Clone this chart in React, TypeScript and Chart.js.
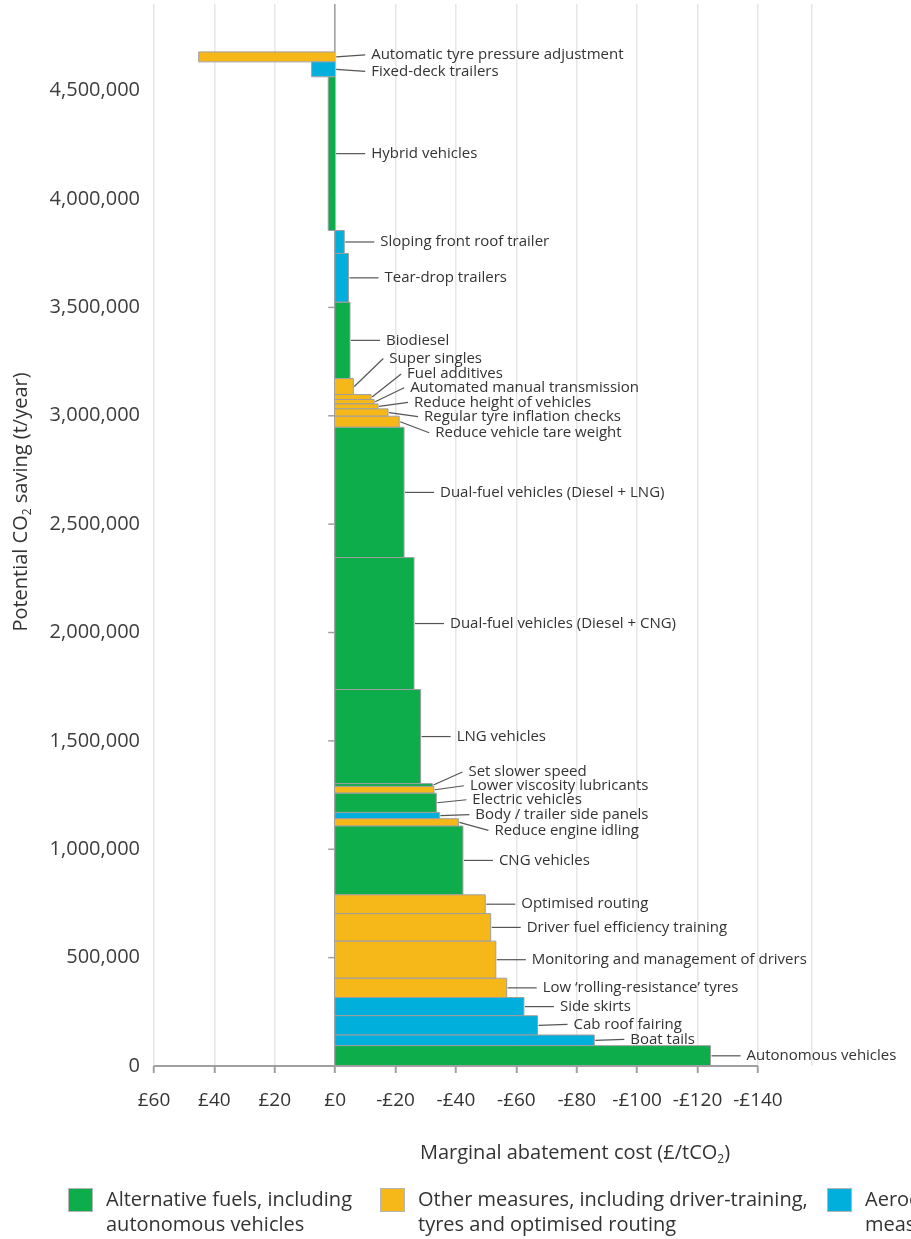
import React, { useEffect, useRef } from 'react';
import { Chart, registerables } from 'chart.js';

Chart.register(...registerables);

// Measures, from the bottom of the curve (cheapest per tonne) to the top
const measures = [
  'Autonomous vehicles',
  'Boat tails',
  'Cab roof fairing',
  'Side skirts',
  'Low \u2018rolling-resistance\u2019 tyres',
  'Monitoring and management of drivers',
  'Driver fuel efficiency training',
  'Optimised routing',
  'CNG vehicles',
  'Reduce engine idling',
  'Body / trailer side panels',
  'Electric vehicles',
  'Lower viscosity lubricants',
  'Set slower speed',
  'LNG vehicles',
  'Dual-fuel vehicles (Diesel + CNG)',
  'Dual-fuel vehicles (Diesel + LNG)',
  'Reduce vehicle tare weight',
  'Regular tyre inflation checks',
  'Reduce height of vehicles',
  'Automated manual transmission',
  'Fuel additives',
  'Super singles',
  'Biodiesel',
  'Tear-drop trailers',
  'Sloping front roof trailer',
  'Hybrid vehicles',
  'Fixed-deck trailers',
  'Automatic tyre pressure adjustment',
];

// Marginal abatement cost, £ per tonne of CO2 (negative = money saved)
const costs = [
  -124.3, -85.8, -67, -62.5, -56.8, -53.2, -51.5, -49.7, -42.3, -40.8,
  -34.5, -33.5, -32.7, -32.2, -28.3, -26.1, -22.8, -21.2, -17.5, -14.2,
  -12.9, -11.9, -6.0, -4.9, -4.4, -3.0, 2.3, 7.8, 45.2,
];

// Potential CO2 saving of each measure, t/year
const savings = [
  94000, 49000, 89000, 84000, 89000, 171000, 127000, 87000, 317000, 34000,
  29000, 89000, 31000, 13000, 434000, 609000, 601000, 51000, 34000, 23000,
  20000, 23000, 74000, 352000, 225000, 106000, 709000, 69000, 46000,
];

// Group of each measure: 0 alternative fuels, 1 other measures, 2 aerodynamic
const groups = [
  0, 2, 2, 2, 1, 1, 1, 1, 0, 1,
  2, 0, 1, 0, 0, 0, 0, 1, 1, 1,
  1, 1, 1, 0, 2, 2, 0, 2, 1,
];

const groupNames = [
  ['Alternative fuels, including', 'autonomous vehicles'],
  ['Other measures, including driver-training,', 'tyres and optimised routing'],
  ['Aerodynamic', 'measures'],
];
const groupColours = ['#0dad4b', '#f6b718', '#00afdb'];

// Axis ticks
const costTicks = [60, 40, 20, 0, -20, -40, -60, -80, -100, -120, -140];
const savingTicks = [0, 500000, 1000000, 1500000, 2000000, 2500000, 3000000, 3500000, 4000000, 4500000];
const costMin = -157.9;
const costMax = 60;
const savingMax = 4900000;

// Vertical nudge (px) of crowded labels away from their bar's middle
const labelNudge: Record<string, number> = {
  'Automatic tyre pressure adjustment': -2,
  'Fixed-deck trailers': 2,
  'Super singles': -28,
  'Fuel additives': -23,
  'Automated manual transmission': -14,
  'Reduce height of vehicles': -4,
  'Regular tyre inflation checks': 4,
  'Reduce vehicle tare weight': 11,
  'Set slower speed': -13,
  'Lower viscosity lubricants': -4,
  'Electric vehicles': -3,
  'Body / trailer side panels': -1,
  'Reduce engine idling': 8,
  'Boat tails': -1,
  'Cab roof fairing': -1,
};

const W = 911;
const H = 1239;
const PLOT_LEFT = 154;
const PLOT_RIGHT = 812;
const PLOT_TOP = 4;
const PLOT_BOTTOM = 1066;
const FONT = '"Open Sans", "Noto Sans", sans-serif';
const TEXT = '#333333';
const AXIS_GREY = '#a0a0a0';
const GRID_GREY = '#e6e6e6';

// cumulative bounds of each block
const cumLo: number[] = [];
const cumHi: number[] = [];
savings.reduce((acc, s, i) => {
  cumLo[i] = acc;
  cumHi[i] = acc + s;
  return acc + s;
}, 0);

const fmtCost = (v: number) => (v === 0 ? '£0' : v > 0 ? `£${v}` : `-£${-v}`);

function drawWithSub(
  ctx: CanvasRenderingContext2D,
  parts: { t: string; sub?: boolean }[],
  cx: number,
  cy: number,
  size: number
) {
  const main = `${size}px ${FONT}`;
  const small = `${Math.round(size * 0.62)}px ${FONT}`;
  let total = 0;
  const widths = parts.map((p) => {
    ctx.font = p.sub ? small : main;
    const w = ctx.measureText(p.t).width;
    total += w;
    return w;
  });
  let xPos = cx - total / 2;
  ctx.textAlign = 'left';
  ctx.textBaseline = 'middle';
  parts.forEach((p, i) => {
    ctx.font = p.sub ? small : main;
    ctx.fillText(p.t, xPos, p.sub ? cy + size * 0.32 : cy);
    xPos += widths[i];
  });
}

const overlay = {
  id: 'macOverlay',
  beforeDatasetsDraw(chart: any) {
    const { ctx } = chart;
    const xs = chart.scales.x;
    const ys = chart.scales.y;
    const x0 = xs.getPixelForValue(0);
    ctx.save();
    // saving ticks on the £0 axis
    ctx.strokeStyle = AXIS_GREY;
    ctx.lineWidth = 1.5;
    savingTicks.forEach((v) => {
      const py = ys.getPixelForValue(v);
      ctx.beginPath();
      ctx.moveTo(x0 - 7, py);
      ctx.lineTo(x0, py);
      ctx.stroke();
    });
    ctx.restore();
  },
  afterDatasetsDraw(chart: any) {
    const { ctx, chartArea } = chart;
    const xs = chart.scales.x;
    const ys = chart.scales.y;
    ctx.save();

    // bottom axis line, only across the labelled range
    ctx.strokeStyle = AXIS_GREY;
    ctx.lineWidth = 2;
    ctx.beginPath();
    ctx.moveTo(xs.getPixelForValue(costTicks[0]), chartArea.bottom);
    ctx.lineTo(xs.getPixelForValue(costTicks[costTicks.length - 1]), chartArea.bottom);
    ctx.stroke();

    // measure labels with leader lines
    ctx.font = `15px ${FONT}`;
    ctx.textAlign = 'left';
    ctx.textBaseline = 'middle';
    measures.forEach((name, i) => {
      const yMid = (ys.getPixelForValue(cumLo[i]) + ys.getPixelForValue(cumHi[i])) / 2;
      const sx = xs.getPixelForValue(Math.min(costs[i], 0)) + 1;
      const ex = sx + 29;
      const ey = yMid + (labelNudge[name] || 0);
      ctx.strokeStyle = '#555555';
      ctx.lineWidth = 1.2;
      ctx.beginPath();
      ctx.moveTo(sx, yMid);
      ctx.lineTo(ex, ey);
      ctx.stroke();
      ctx.fillStyle = TEXT;
      ctx.fillText(name, ex + 6, ey);
    });

    // axis titles
    ctx.fillStyle = TEXT;
    drawWithSub(ctx, [{ t: 'Marginal abatement cost (£/tCO' }, { t: '2', sub: true }, { t: ')' }], 575, 1153, 20);
    ctx.save();
    ctx.translate(21, 502);
    ctx.rotate(-Math.PI / 2);
    drawWithSub(ctx, [{ t: 'Potential CO' }, { t: '2', sub: true }, { t: ' saving (t/year)' }], 0, 0, 20);
    ctx.restore();

    // legend
    const legendX = [68, 380, 827];
    groupNames.forEach((lines, g) => {
      const lx = legendX[g];
      ctx.fillStyle = groupColours[g];
      ctx.fillRect(lx, 1188, 25, 24);
      ctx.strokeStyle = '#b5b5b5';
      ctx.lineWidth = 1;
      ctx.strokeRect(lx + 0.5, 1188.5, 24, 23);
      ctx.fillStyle = TEXT;
      ctx.font = `20px ${FONT}`;
      ctx.textAlign = 'left';
      ctx.textBaseline = 'middle';
      lines.forEach((ln, k) => ctx.fillText(ln, lx + 38, 1200 + k * 25));
    });

    ctx.restore();
  },
};

export default function App() {
  const ref = useRef<HTMLCanvasElement>(null);

  useEffect(() => {
    const canvas = ref.current;
    if (!canvas) return;
    Chart.defaults.font.family = FONT;

    const datasets = measures.map((name, i) => ({
      label: name,
      data: [
        { x: 0, y: cumLo[i] },
        { x: costs[i], y: cumLo[i] },
        { x: costs[i], y: cumHi[i] },
        { x: 0, y: cumHi[i] },
      ],
      backgroundColor: groupColours[groups[i]],
      borderColor: '#9e9e9e',
      borderWidth: 1,
      pointRadius: 0,
      pointHoverRadius: 0,
      tension: 0,
      fill: 'origin',
    }));

    const chart = new Chart(canvas, {
      type: 'line',
      data: { datasets },
      options: {
        indexAxis: 'y',
        responsive: false,
        animation: false,
        events: [],
        layout: { padding: { left: 0, right: W - PLOT_RIGHT, top: PLOT_TOP, bottom: 0 } },
        plugins: {
          legend: { display: false },
          tooltip: { enabled: false },
        },
        scales: {
          x: {
            type: 'linear',
            min: costMin,
            max: costMax,
            reverse: true,
            afterBuildTicks: (s: any) => {
              // labelled ticks plus a grid line closing the plot on the right
              s.ticks = [...costTicks, costMin].map((value) => ({ value }));
            },
            afterFit: (s: any) => {
              s.height = H - PLOT_BOTTOM;
              s.paddingLeft = 0;
              s.paddingRight = 0;
            },
            border: { display: false },
            grid: {
              color: (c: any) => (c.tick && c.tick.value === 0 ? AXIS_GREY : GRID_GREY),
              lineWidth: (c: any) => (c.tick && c.tick.value === 0 ? 1.6 : 1.5),
              tickColor: (c: any) =>
                c.tick && costTicks.includes(c.tick.value) ? AXIS_GREY : 'rgba(0,0,0,0)',
              tickLength: 7,
              tickWidth: 2,
              drawTicks: true,
            },
            ticks: {
              autoSkip: false,
              maxRotation: 0,
              padding: 16,
              color: TEXT,
              font: { size: 19, family: FONT },
              callback: (v: any) => (costTicks.includes(Number(v)) ? fmtCost(Number(v)) : ''),
            },
          },
          y: {
            type: 'linear',
            min: 0,
            max: savingMax,
            afterBuildTicks: (s: any) => {
              s.ticks = savingTicks.map((value) => ({ value }));
            },
            afterFit: (s: any) => {
              s.width = PLOT_LEFT;
              s.paddingTop = 0;
              s.paddingBottom = 0;
            },
            border: { display: false },
            grid: { display: false, drawTicks: false },
            ticks: {
              padding: 14,
              color: '#3d3d3d',
              font: { size: 20, family: FONT },
              callback: (v: any) => Number(v).toLocaleString('en-GB'),
            },
          },
        },
      },
      plugins: [overlay],
    } as any);

    return () => chart.destroy();
  }, []);

  return (
    <div style={{ position: 'absolute', left: 0, top: 0, width: W, height: H, background: '#ffffff' }}>
      <canvas ref={ref} width={W} height={H} style={{ display: 'block' }} />
    </div>
  );
}
